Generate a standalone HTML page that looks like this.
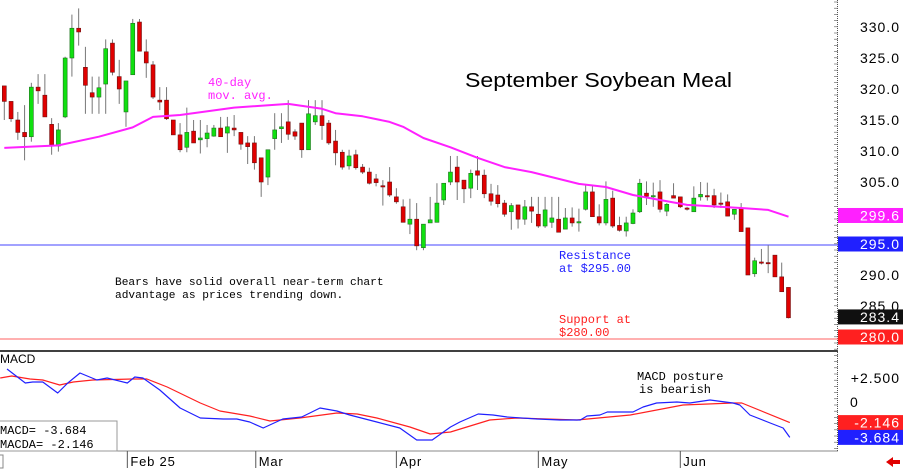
<!DOCTYPE html>
<html><head><meta charset="utf-8"><style>
html,body{margin:0;padding:0;background:#fff;}
svg{display:block;font-family:"Liberation Sans",sans-serif;}
.m{font-family:"Liberation Mono",monospace;}
</style></head><body>
<svg id="c" width="903" height="471" viewBox="0 0 903 471">
<rect x="0" y="0" width="903" height="471" fill="#fff"/>
<g id="grid">
<line x1="0" y1="351" x2="838" y2="351" stroke="#000" stroke-width="1.5"/>
<line x1="0" y1="451" x2="838" y2="451" stroke="#888" stroke-width="1"/>
<line x1="837.5" y1="0" x2="837.5" y2="451" stroke="#555" stroke-width="1" stroke-dasharray="1,1"/>
<line x1="0" y1="245" x2="838" y2="245" stroke="#6a6aff" stroke-width="1.2"/>
<line x1="0" y1="339" x2="838" y2="339" stroke="#ff6060" stroke-width="1"/>
</g>
<g id="candles"></g>
<g id="ma"></g>
<g id="macd"></g>
<g id="axis"></g>
<text x="465" y="87" font-size="20" textLength="267" lengthAdjust="spacingAndGlyphs" fill="#000">September Soybean Meal</text>
<text class="m" x="208" y="86" font-size="12" fill="#ff20ff"><tspan x="208">40-day</tspan><tspan x="208" dy="13">mov. avg.</tspan></text>
<text class="m" x="559" y="259" font-size="12" fill="#2020ff"><tspan x="559">Resistance</tspan><tspan x="559" dy="13">at $295.00</tspan></text>
<text class="m" x="559" y="323" font-size="12" fill="#ff2020"><tspan x="559">Support at</tspan><tspan x="559" dy="13">$280.00</tspan></text>
<text class="m" x="115" y="285" font-size="11.2" fill="#000"><tspan x="115">Bears have solid overall near-term chart</tspan><tspan x="115" dy="13">advantage as prices trending down.</tspan></text>
<text class="m" x="637" y="380" font-size="12" fill="#000"><tspan x="637">MACD posture</tspan><tspan x="639" dy="13">is bearish</tspan></text>
<text x="0" y="363" font-size="12" fill="#000">MACD</text>
<g>
<rect x="-1" y="421" width="118" height="30" fill="#fff" stroke="#999"/>
<text class="m" x="0" y="434" font-size="12" fill="#000">MACD=  -3.684</text>
<text class="m" x="0" y="448" font-size="12" fill="#000">MACDA= -2.146</text>
</g>
<g id="dates"></g>
<rect x="-1" y="455" width="4" height="13" fill="#fff" stroke="#888"/>
<polygon points="886,462 893,457 893,460 900,460 900,464 893,464 893,467" fill="#e00000"/>
</svg>
<script>
const opens=[320.5,318,315,313,312.3,320.3,319,314.3,310.8,315.5,325,329.8,323.5,319.4,318.7,320.8,327.4,322,316.3,322.3,330.8,326,323.9,318.2,318.2,315,312.6,310.6,313.2,311.8,312,312.4,313.7,312.9,313.7,313,311.3,311.3,308.9,305.8,312,313.6,314.7,313.1,314.5,310.2,314.7,315.7,314.5,311.6,309.8,307.6,309.4,307.4,306.6,305.5,304.4,305,302.6,301,298.2,299,294.4,298.4,298.5,302.1,305,307.4,305.3,304,306.8,306.1,303.1,302.9,301.6,300.2,301.3,299,301,299.8,297.9,298.5,299,297.4,299.2,298.4,300.6,303.4,299.4,298.4,302.4,298,297.1,298.3,300.2,303.2,302.6,303.4,300.3,302.8,302.6,300.8,300.2,302.6,302.8,302.8,301.6,301.8,299.8,300.8,297.6,290.2,292.1,292,293.2,289.7,288];
const closes=[318,315.2,313,312.3,320.3,319.7,315.5,311,313.4,325,329.8,329.2,320.6,318.7,320.2,326.5,322.7,320,321.3,330.6,326.1,324.2,318.7,317.9,315.2,312.6,310.2,313,311.3,312.1,312.9,313.7,312.3,313.9,313.4,311.1,310.7,308.1,305,310.2,313.4,313.9,312.7,312.4,310.2,316,315.7,314.1,311.3,309.7,307.4,309.2,307.3,306.6,304.8,304.9,304.2,302.9,301.8,298.5,299,294.7,298.2,298.9,301.6,304.8,306.6,305,303.9,306.4,306.1,303.1,301.9,301.5,299.8,301.2,299,301,300.3,297.9,300.5,299.2,296.9,299.2,298.4,298.6,303.4,299.4,298.4,302.2,297.9,297.2,298.4,300,304.8,302.7,302.8,300.6,301.4,302.4,301,300.6,302.4,303,302.6,301.3,301.4,299.5,300.6,297,290,292.3,291.9,291.9,289.7,287.3,283.1];
const highs=[320.5,318,316.3,317.4,321,322.4,322.4,315.3,314.5,325.2,332,333,326.8,322,322,328,328,324.7,321.3,331.3,331.3,328,324.5,320.3,320.3,315,314.5,317,315,315,314.2,314.2,315.5,315.5,315.8,313,312.4,312.4,308.9,305.8,316.1,316.1,318.2,313.5,314.5,318.2,318.2,318.2,315,313.4,310.2,310.2,310.2,307.9,307.3,306.3,305.3,307.4,304,302.2,302.3,301.6,298.2,302.6,304.8,304.8,309.2,309.2,305.3,307,309.2,307,304.7,304.5,302.1,301.6,301.3,302.1,302.6,302.6,302.6,302.6,302.6,300.8,300.9,300.7,304.5,304.5,301.4,305.1,303.6,299.4,299.4,300.6,305.5,305.1,304.9,305.3,301.6,304.8,302.6,301,304.3,305,304.9,303.9,303.3,303,300.6,301.6,297.6,292.8,294.2,294.8,293.2,292,288];
const lows=[315,314.7,311.8,308.5,311.5,317.6,315.5,309.4,309.9,315.3,322,327,316,316,316,316,322.2,317.6,313.9,322.3,326.1,321.8,318.4,316.6,315,312.6,309.8,309.8,311.3,309.6,310.6,312.3,312.3,309.7,312.4,310.2,307.9,307,302.6,304.5,310.2,311.3,311.8,311.8,308.9,310.2,314.2,311.8,311,307.7,307,307,307,306.3,304.6,304.3,301.2,302.6,301.5,298.5,296.6,294,294,298.9,298.5,301.3,304.5,302.1,301.6,302.4,303.7,302.4,301.2,300.9,299.4,297.3,297.5,298.1,298.4,297.6,297.6,297.6,296.9,299.2,297.8,297,300.4,299.4,298,298,297.6,297,296.2,298.2,300,301.3,301,300.1,299.5,302.4,300.8,300.4,300.2,302,302,300.8,300.8,299.5,298.9,297,290,289.7,291.7,290.3,289.7,287.3,283];
const maIdx=[0,8,14,19,22,26,34,42,47,49,53,57,59,62,66,70,74,78,85,89,93,97,101,109,113,116];
const maVal=[310.5,310.9,312.3,313.8,315.5,315.8,317,317.6,316.8,316.1,315.6,314.7,313.9,312.1,310.6,308.9,307.4,306.6,304.7,304.2,302.9,302.1,301.3,300.8,300.5,299.4];
const macdIdx=[0.4,3.1,4.2,5.7,7.9,9.4,11.2,13.7,15.2,18.2,19.3,20.5,23,26,29,32.4,34.4,36.3,38.3,41.2,44,46.7,49.2,51.1,55.1,58.5,61,63.3,66,67.4,70.1,72.3,74.4,78.8,82.2,85.2,86.2,88.1,89.2,93,94.5,96.5,99.5,101.4,104.4,107.8,108.8,110.3,113.3,115.2,116.2];
const macdVal=[3.44,1.98,2.08,2.08,0.94,1.98,3.02,2.29,2.5,1.98,2.6,2.5,1.25,-0.63,-1.67,-1.77,-1.77,-2.08,-2.71,-1.77,-1.56,-0.63,-0.94,-1.35,-2.08,-2.71,-3.96,-3.96,-2.6,-2.08,-1.25,-1.35,-1.56,-1.77,-1.88,-1.88,-1.46,-1.35,-1.04,-1.04,-0.52,-0.1,0,-0.1,0.21,-0.1,-0.31,-1.35,-2.19,-2.71,-3.684];
const sigIdx=[-0.6,1.1,3.8,5.7,8.2,10.2,13.1,19,21.1,24.1,29,31.9,36.3,39.3,43.7,49.2,52.2,55.1,60,63,66,71.8,75.8,84.7,92.6,100.4,107.8,109.1,116.2];
const sigVal=[2.5,2.71,2.4,2.29,1.77,2.08,2.29,2.4,2.4,1.56,-0.1,-0.94,-1.46,-1.98,-1.67,-1.15,-1.25,-1.67,-2.6,-3.33,-3.13,-1.88,-1.67,-1.88,-1.35,-0.31,-0.1,-0.1,-2.146];
const priceTicks=[330,325,320,315,310,305,290,285];
const dateLabels=["Feb 25","Mar","Apr","May","Jun"];
const dateIdx=[18.2,37.2,58,79,100];
const lastPrice=283.4, maLast=299.6, resistance=295.0, support=280.0;

const NS="http://www.w3.org/2000/svg";
function X(i){return 4.3+i*6.76;}
function Y(p){return 27+(330-p)*6.2;}
function MY(v){return 402-v*9.6;}
function mk(t,a,parent){const e=document.createElementNS(NS,t);for(const k in a)e.setAttribute(k,a[k]);parent.appendChild(e);return e;}

const cg=document.getElementById('candles');
for(let i=0;i<opens.length;i++){
  const x=X(i),o=opens[i],c=closes[i];
  const w=mk('line',{x1:x,x2:x,y1:Y(highs[i]),y2:Y(lows[i]),stroke:'#777','stroke-width':1},cg);
  
  
  const top=Y(Math.max(o,c)),bot=Y(Math.min(o,c));
  const b=mk('rect',{x:x-2,y:top,width:4,height:Math.max(1.2,bot-top),fill:c>=o?'#10e010':'#e00000',stroke:c>=o?'#207020':'#701010','stroke-width':0.6},cg);
  
  
}
function line(idx,vals,fx,fy,color,w,parent,name){
  let d='';for(let i=0;i<idx.length;i++)d+=(i?'L':'M')+fx(idx[i]).toFixed(1)+','+fy(vals[i]).toFixed(1);
  const p=mk('path',{d:d,fill:'none',stroke:color,'stroke-width':w,'stroke-linejoin':'round'},parent);
  
  
}
line(maIdx,maVal,X,Y,'#ff20ff',2,document.getElementById('ma'),'ma-line');
const mg=document.getElementById('macd');
line(sigIdx,sigVal,X,MY,'#ff2020',1.2,mg,'macda-line');
line(macdIdx,macdVal,X,MY,'#2020ff',1.2,mg,'macd-line');

const ag=document.getElementById('axis');
for(let y=2;y<451;y+=6.2){mk('line',{x1:834,x2:838,y1:y,y2:y,stroke:'#555','stroke-width':0.6},ag);}
priceTicks.forEach(p=>{
  const t=mk('text',{x:900,y:Y(p)+5,'font-size':14,'text-anchor':'end','letter-spacing':1,fill:'#000'},ag);
  t.textContent=p.toFixed(1);
  
  
});
function tag(v,yc,bg,name,fixed){
  const r=mk('rect',{x:838,y:yc-7.5,width:65,height:15,fill:bg},ag);
  
  
  const t=mk('text',{x:900,y:yc+5,'font-size':14,'text-anchor':'end','letter-spacing':1,fill:'#fff'},ag);
  t.textContent=fixed;
  
  
}
tag(maLast,Y(maLast),'#ff20ff','ma-last-tag',maLast.toFixed(1));
tag(resistance,Y(resistance),'#2020ff','resistance-tag',resistance.toFixed(1));
tag(lastPrice,Y(lastPrice)+1,'#101010','last-price-tag',lastPrice.toFixed(1));
tag(support,Y(support),'#ff2020','support-tag',support.toFixed(1));
const t1=mk('text',{x:900,y:MY(2.5)+5,'font-size':14,'text-anchor':'end','letter-spacing':1,fill:'#000'},ag);
t1.textContent='+2.500';


const t0=mk('text',{x:850,y:MY(0)+5,'font-size':14,fill:'#000'},ag);
t0.textContent='0';


tag(sigVal[sigVal.length-1],MY(sigVal[sigVal.length-1]),'#ff2020','macda-last-tag',sigVal[sigVal.length-1].toFixed(3));
tag(macdVal[macdVal.length-1],MY(macdVal[macdVal.length-1]),'#2020ff','macd-last-tag',macdVal[macdVal.length-1].toFixed(3));

const dg=document.getElementById('dates');
dateLabels.forEach((s,i)=>{
  const x=X(dateIdx[i]);
  mk('line',{x1:x,x2:x,y1:451,y2:468,stroke:'#555','stroke-width':1},dg);
  const t=mk('text',{x:x+3,y:466,'font-size':13,'letter-spacing':0.8,fill:'#000'},dg);
  t.textContent=s;
  
  
});
</script>
</body></html>
